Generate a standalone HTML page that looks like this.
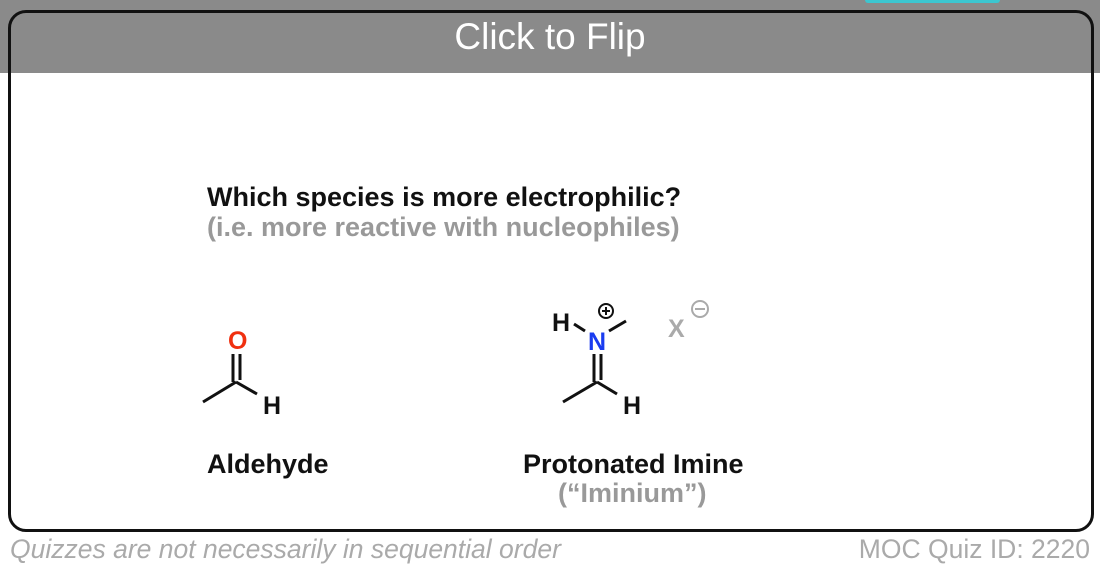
<!DOCTYPE html>
<html><head><style>
body{margin:0;width:1100px;height:574px;background:#fff;position:relative;overflow:hidden;font-family:"Liberation Sans",sans-serif}
.band{position:absolute;left:0;top:0;width:1100px;height:73px;background:#8a8a8a}
.tab{position:absolute;left:865px;top:0;width:135px;height:3px;background:#3cc6d0;border-radius:0 0 4px 4px}
.card{position:absolute;left:8px;top:10px;width:1080px;height:516px;border:3px solid #111;border-radius:18px;box-sizing:content-box}
.title{position:absolute;left:0;width:1100px;top:16px;text-align:center;color:#fff;font-size:37px}
.t{position:absolute;font-weight:bold;white-space:nowrap;font-size:27px;line-height:1}
.foot{position:absolute;top:535px;font-size:26.5px;color:#aaa;white-space:nowrap;line-height:1.1}
</style></head><body>
<div class="band"></div><div class="tab"></div>
<div class="card"></div>
<div class="title">Click to Flip</div>
<div class="t" style="left:207px;top:184px;color:#111">Which species is more electrophilic?</div>
<div class="t" style="left:207px;top:214px;color:#999">(i.e. more reactive with nucleophiles)</div>
<div class="t" style="left:207px;top:451px;color:#111">Aldehyde</div>
<div class="t" style="left:523px;top:451px;color:#111">Protonated Imine</div>
<div class="t" style="left:558px;top:480px;color:#999">(“Iminium”)</div>
<svg width="1100" height="574" style="position:absolute;left:0;top:0">
<g stroke="#111" stroke-width="3" fill="none">
<line x1="203" y1="402" x2="236" y2="382"/>
<line x1="236" y1="382" x2="257" y2="394"/>
<line x1="233" y1="354" x2="233" y2="382"/>
<line x1="240" y1="354" x2="240" y2="380"/>
<line x1="563" y1="402" x2="597" y2="382"/>
<line x1="597" y1="382" x2="617" y2="394"/>
<line x1="594" y1="354" x2="594" y2="382"/>
<line x1="601" y1="354" x2="601" y2="380"/>
<line x1="574" y1="324" x2="585" y2="331"/>
<line x1="609" y1="331" x2="626" y2="321"/>
</g>
<g font-family="Liberation Sans" font-weight="bold" font-size="25">
<text x="228" y="349" fill="#f03010">O</text>
<text x="263" y="414" fill="#111">H</text>
<text x="623" y="414" fill="#111">H</text>
<text x="552" y="331" fill="#111">H</text>
<text x="588" y="350" fill="#1a3cf0">N</text>
<text x="668" y="337" fill="#aaa">X</text>
</g>
<circle cx="606" cy="311" r="7" fill="none" stroke="#111" stroke-width="2"/>
<line x1="602" y1="311" x2="610" y2="311" stroke="#111" stroke-width="2"/>
<line x1="606" y1="307" x2="606" y2="315" stroke="#111" stroke-width="2"/>
<circle cx="700" cy="309" r="8" fill="none" stroke="#aaa" stroke-width="2"/>
<line x1="695" y1="309" x2="705" y2="309" stroke="#aaa" stroke-width="2"/>
</svg>
<div class="foot" style="left:10px;font-style:italic">Quizzes are not necessarily in sequential order</div>
<div class="foot" style="right:10px">MOC Quiz ID: 2220</div>
</body></html>
